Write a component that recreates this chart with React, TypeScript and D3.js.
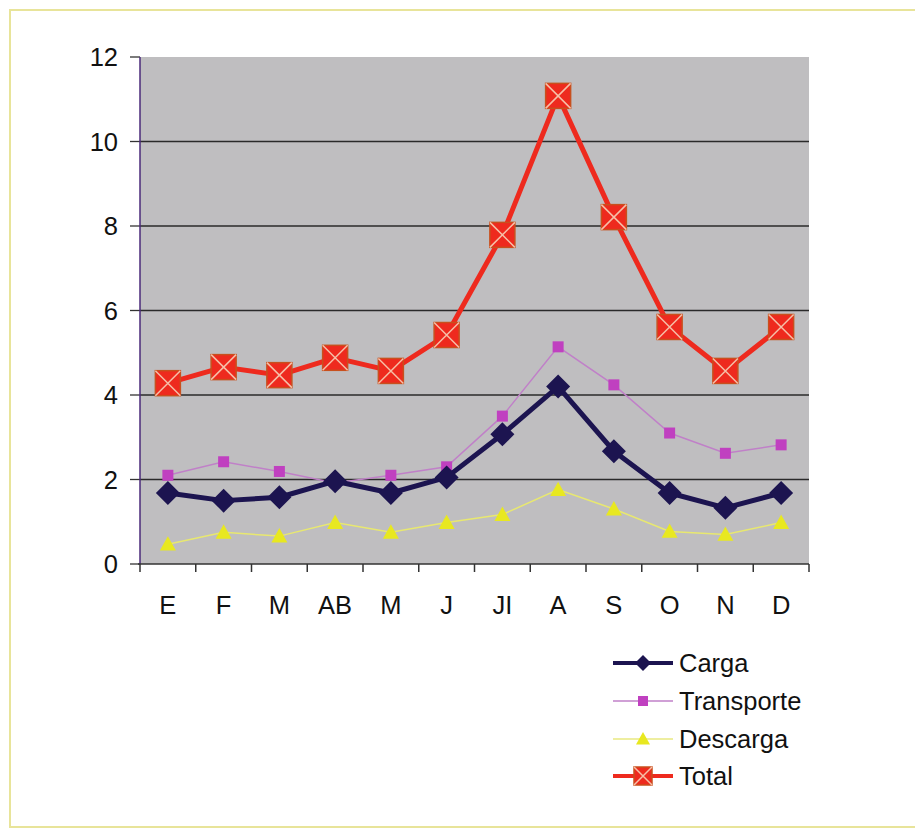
import React from "react";
import * as d3 from "d3";

const months = ["E", "F", "M", "AB", "M", "J", "JI", "A", "S", "O", "N", "D"];
const carga = [1.68, 1.5, 1.58, 1.96, 1.68, 2.05, 3.07, 4.2, 2.67, 1.68, 1.33, 1.68];
const transporte = [2.1, 2.42, 2.19, 1.92, 2.1, 2.3, 3.5, 5.14, 4.24, 3.1, 2.62, 2.82];
const descarga = [0.47, 0.75, 0.66, 0.98, 0.75, 0.98, 1.17, 1.76, 1.3, 0.77, 0.7, 0.98];
const total = [4.28, 4.66, 4.47, 4.88, 4.57, 5.42, 7.79, 11.08, 8.21, 5.61, 4.57, 5.61];
const yTicks = [0, 2, 4, 6, 8, 10, 12];

const W = 915, H = 830;
const L = 140, R = 809, T = 57, B = 564;

export default function App() {
  const idx = months.map((_, i) => i);
  const x = d3.scaleBand<number>().domain(idx).range([L, R]);
  const y = d3.scaleLinear().domain([0, 12]).range([B, T]);
  const cx = (i: number) => (x(i) as number) + x.bandwidth() / 2;
  const line = (vals: number[]) =>
    d3.line<number>().x((_, i) => cx(i)).y((v) => y(v))(vals) as string;

  const diamond = (px: number, py: number, s: number, key: any) => (
    <path key={key} d={`M${px},${py - s}L${px + s},${py}L${px},${py + s}L${px - s},${py}Z`} fill="#1c1450" />
  );
  const square = (px: number, py: number, s: number, key: any) => (
    <rect key={key} x={px - s} y={py - s} width={2 * s} height={2 * s} fill="#c040c0" />
  );
  const tri = (px: number, py: number, s: number, key: any) => (
    <path key={key} d={`M${px},${py - s}L${px + s},${py + s * 0.8}L${px - s},${py + s * 0.8}Z`} fill="#e8e820" />
  );
  const xbox = (px: number, py: number, s: number, key: any) => (
    <g key={key}>
      <rect x={px - s} y={py - s} width={2 * s} height={2 * s} fill="#ee2a1e" stroke="#c8501e" strokeWidth={1.5} />
      <path d={`M${px - s},${py - s}L${px + s},${py + s}M${px + s},${py - s}L${px - s},${py + s}`} stroke="#f6c0a8" strokeWidth={1.5} />
    </g>
  );

  const font = "Liberation Sans, Arial, sans-serif";
  const fs = 25.5;
  const legend = [
    { name: "Carga", color: "#1c1450", w: 4, m: (px: number, py: number) => diamond(px, py, 8, "l") },
    { name: "Transporte", color: "#c080c8", w: 1.5, m: (px: number, py: number) => square(px, py, 5, "l") },
    { name: "Descarga", color: "#e8e880", w: 1.5, m: (px: number, py: number) => tri(px, py, 7, "l") },
    { name: "Total", color: "#ee2a1e", w: 4, m: (px: number, py: number) => xbox(px, py, 9, "l") },
  ];
  const legY = [663, 701, 739, 776];

  return (
    <svg width={W} height={H} style={{ position: "absolute", left: 0, top: 0 }}>
      <rect x={0} y={0} width={W} height={H} fill="#ffffff" />
      <rect x={10} y={10} width={915} height={817} fill="none" stroke="#e8e49a" strokeWidth={2} />
      <rect x={L} y={T} width={R - L} height={B - T} fill="#bfbec0" />
      {yTicks.map((t) => (
        <g key={t}>
          {t > 0 && t < 12 && <line x1={L} x2={R} y1={y(t)} y2={y(t)} stroke="#2a2a2a" strokeWidth={1.3} />}
          <line x1={130} x2={L} y1={y(t)} y2={y(t)} stroke="#333" strokeWidth={1.3} />
          <text x={118} y={y(t) + 9} textAnchor="end" fontFamily={font} fontSize={fs} fill="#111">{t}</text>
        </g>
      ))}
      <line x1={L} x2={L} y1={T} y2={B} stroke="#4a2a7a" strokeWidth={1.5} />
      <line x1={L - 2} x2={R} y1={B} y2={B} stroke="#333" strokeWidth={1.5} />
      {d3.range(13).map((i) => {
        const px = L + i * x.bandwidth();
        return <line key={i} x1={px} x2={px} y1={B} y2={B + 8} stroke="#333" strokeWidth={1.5} />;
      })}
      {months.map((m, i) => (
        <text key={i} x={cx(i)} y={614} textAnchor="middle" fontFamily={font} fontSize={fs} fill="#111">{m}</text>
      ))}

      <path d={line(descarga)} fill="none" stroke="#e8e870" strokeWidth={1.5} />
      {descarga.map((v, i) => tri(cx(i), y(v), 8, i))}
      <path d={line(transporte)} fill="none" stroke="#c080c8" strokeWidth={1.5} />
      {transporte.map((v, i) => square(cx(i), y(v), 5.5, i))}
      <path d={line(carga)} fill="none" stroke="#1c1450" strokeWidth={5} strokeLinejoin="round" />
      {carga.map((v, i) => diamond(cx(i), y(v), 12, i))}
      <path d={line(total)} fill="none" stroke="#ee2a1e" strokeWidth={5} strokeLinejoin="round" />
      {total.map((v, i) => xbox(cx(i), y(v), 12.5, i))}

      {legend.map((l, k) => (
        <g key={l.name}>
          <line x1={613} x2={673} y1={legY[k]} y2={legY[k]} stroke={l.color} strokeWidth={l.w} />
          {l.m(643, legY[k])}
          <text x={679} y={legY[k] + 9} fontFamily={font} fontSize={fs} fill="#111">{l.name}</text>
        </g>
      ))}
    </svg>
  );
}
